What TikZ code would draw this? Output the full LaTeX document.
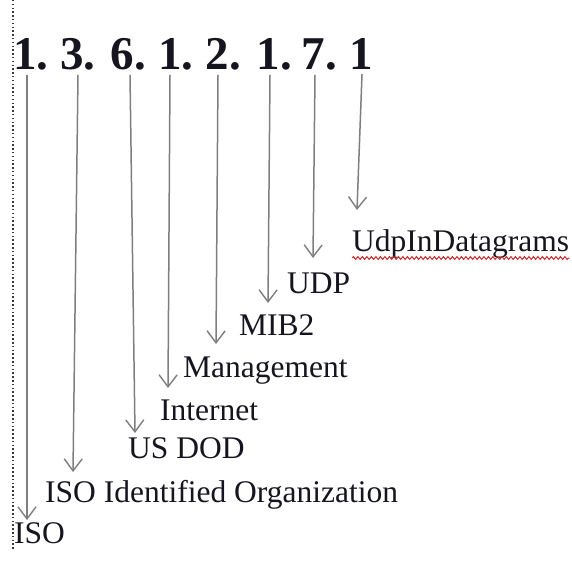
\documentclass[tikz,border=0pt]{standalone}
\usepackage{fontspec}
\setmainfont[Ligatures=NoCommon]{Liberation Serif}
\usetikzlibrary{arrows.meta,decorations.pathmorphing}
\definecolor{inkc}{HTML}{15151F}
\definecolor{arrowc}{HTML}{7E7E7E}
\definecolor{dotc}{HTML}{3A3A3A}
\definecolor{spellc}{HTML}{D02828}
\tikzset{
  digit/.style={anchor=base west, inner sep=0pt, text=inkc,
    font=\fontsize{47}{47}\selectfont\bfseries},
  lbl/.style={anchor=base west, inner sep=0pt, text=inkc,
    font=\fontsize{31.5}{31.5}\selectfont},
  oidarrow/.style={draw=arrowc, line width=1.5pt,
    -{Straight Barb[length=12pt, width=18pt, line width=1.4pt]}},
}
\begin{document}
\begin{tikzpicture}[x=1pt, y=-1pt]
\useasboundingbox (0,0) rectangle (572,561);

% left margin guide
\draw[dotc, line width=1.9pt, dash pattern=on 1.5pt off 2.3pt] (13,0) -- (13,549);

% object identifier digits
\node[digit] (d1) at (13.25,70) {1.};
\node[digit] (d2) at (60.25,70) {3.};
\node[digit] (d3) at (110.75,70) {6.};
\node[digit] (d4) at (158.25,70) {1.};
\node[digit] (d5) at (205.75,70) {2.};
\node[digit] (d6) at (256.75,70) {1.};
\node[digit] (d7) at (301.75,70) {7.};
\node[digit] (d8) at (349.25,70) {1};

% names of the tree levels
\node[lbl] (l1) at (14,543) {ISO};
\node[lbl] (l2) at (45,502) {ISO Identified Organization};
\node[lbl] (l3) at (128,458) {US DOD};
\node[lbl] (l4) at (160,420) {Internet};
\node[lbl] (l5) at (183,377) {Management};
\node[lbl] (l6) at (239,335) {MIB2};
\node[lbl] (l7) at (287,293) {UDP};
\node[lbl] (l8) at (352,251) {UdpInDatagrams};

% spell-check squiggle
\draw[spellc, line width=1pt, decorate,
      decoration={snake, amplitude=1.4pt, segment length=4.5pt}]
  ([yshift=-7pt]l8.base west) -- ([yshift=-7pt]l8.base east);

% arrows from each digit to its level
\draw[oidarrow] ([xshift=13.75pt,yshift=-4pt]d1.south west) -- ([xshift=13pt,yshift=23pt]l1.base west);
\draw[oidarrow] ([xshift=17.75pt,yshift=-4pt]d2.south west) -- ([xshift=28pt,yshift=30pt]l2.base west);
\draw[oidarrow] ([xshift=19.25pt,yshift=-4pt]d3.south west) -- ([xshift=7pt,yshift=25pt]l3.base west);
\draw[oidarrow] ([xshift=11.75pt,yshift=-4pt]d4.south west) -- ([xshift=8pt,yshift=32pt]l4.base west);
\draw[oidarrow] ([xshift=12.25pt,yshift=-4pt]d5.south west) -- ([xshift=33pt,yshift=33pt]l5.base west);
\draw[oidarrow] ([xshift=13.25pt,yshift=-4pt]d6.south west) -- ([xshift=29pt,yshift=32pt]l6.base west);
\draw[oidarrow] ([xshift=13.25pt,yshift=-4pt]d7.south west) -- ([xshift=26pt,yshift=35pt]l7.base west);
\draw[oidarrow] ([xshift=12.75pt,yshift=-4pt]d8.south west) -- ([xshift=5pt,yshift=41pt]l8.base west);
\end{tikzpicture}
\end{document}
